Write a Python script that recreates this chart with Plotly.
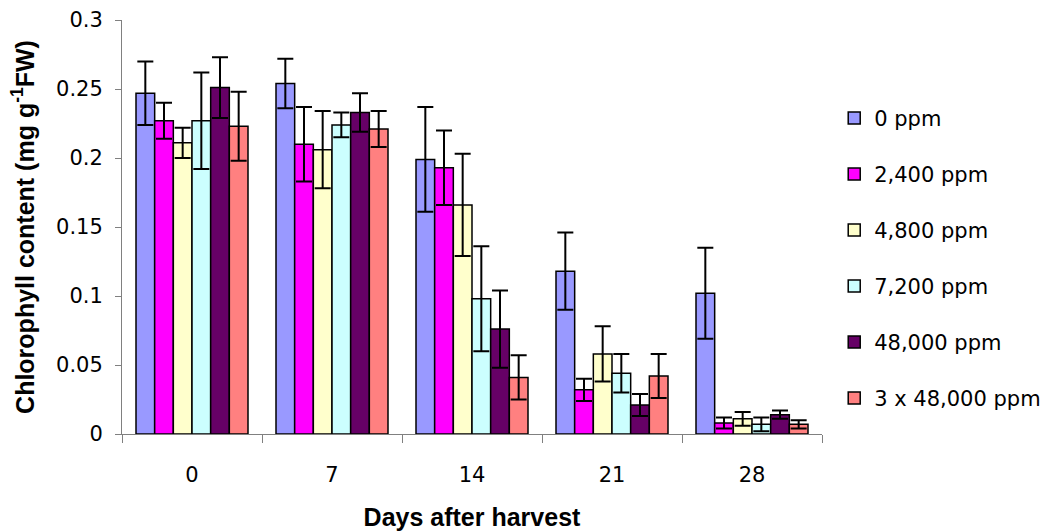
import plotly.graph_objects as go

# Days after harvest (categories on the x axis)
days = ["0", "7", "14", "21", "28"]

# Treatment names shown in the legend
treatments = ["0 ppm", "2,400 ppm", "4,800 ppm", "7,200 ppm", "48,000 ppm", "3 x 48,000 ppm"]

# Mean chlorophyll content (mg g-1 FW) per treatment
chl_0 = [0.247, 0.254, 0.199, 0.118, 0.102]
chl_2400 = [0.227, 0.210, 0.193, 0.032, 0.008]
chl_4800 = [0.211, 0.206, 0.166, 0.058, 0.011]
chl_7200 = [0.227, 0.224, 0.098, 0.044, 0.007]
chl_48000 = [0.251, 0.233, 0.076, 0.021, 0.014]
chl_3x48000 = [0.223, 0.221, 0.041, 0.042, 0.007]

# Error bar half-lengths
err_0 = [0.023, 0.018, 0.038, 0.028, 0.033]
err_2400 = [0.013, 0.027, 0.027, 0.008, 0.004]
err_4800 = [0.011, 0.028, 0.037, 0.020, 0.005]
err_7200 = [0.035, 0.009, 0.038, 0.014, 0.005]
err_48000 = [0.022, 0.014, 0.028, 0.008, 0.003]
err_3x48000 = [0.025, 0.013, 0.016, 0.016, 0.003]

means = [chl_0, chl_2400, chl_4800, chl_7200, chl_48000, chl_3x48000]
errors = [err_0, err_2400, err_4800, err_7200, err_48000, err_3x48000]
colors = ["#9999FF", "#FF00FF", "#FFFFCC", "#CCFFFF", "#660066", "#FF8080"]

fig = go.Figure()
for name, y, e, c in zip(treatments, means, errors, colors):
    fig.add_trace(go.Bar(
        x=days, y=y, name=name, legendgroup=name,
        marker=dict(color=c, line=dict(color="black", width=1.5)),
        error_y=dict(type="data", array=e, visible=True,
                     color="black", thickness=2, width=8),
    ))

tick_font = dict(family="DejaVu Sans, Arial, sans-serif", size=21, color="black")
title_font = dict(family="Liberation Sans, Arial, sans-serif", size=25, color="black")

fig.update_layout(
    width=1057, height=531,
    margin=dict(l=122, r=234, t=20, b=97),
    paper_bgcolor="white", plot_bgcolor="white",
    barmode="group", bargap=0.2, bargroupgap=0,
    showlegend=True,
    legend=dict(
        x=1.016, xanchor="left", y=0.812, yanchor="top",
        font=dict(family="DejaVu Sans, Arial, sans-serif", size=21, color="black"),
        tracegroupgap=25.7, bgcolor="rgba(0,0,0,0)",
    ),
    xaxis=dict(
        type="category", tickson="boundaries", automargin=False,
        ticks="outside", ticklen=8, tickcolor="#808080", tickwidth=1,
        ticklabelstandoff=22,
        showline=True, linecolor="#808080", linewidth=1,
        showgrid=False, tickfont=tick_font,
        title=dict(text="<b>Days after harvest</b>", font=title_font, standoff=25),
    ),
    yaxis=dict(
        range=[0, 0.3], dtick=0.05, tick0=0, automargin=False,
        ticks="outside", ticklen=6, tickcolor="#808080", tickwidth=1,
        ticklabelstandoff=8,
        showline=True, linecolor="#808080", linewidth=1,
        showgrid=False, zeroline=False, tickfont=tick_font,
        title=dict(text="<b>Chlorophyll content (mg g<sup>-1</sup>FW)</b>",
                   font=title_font, standoff=14),
    ),
)

fig.write_html("out.html")
